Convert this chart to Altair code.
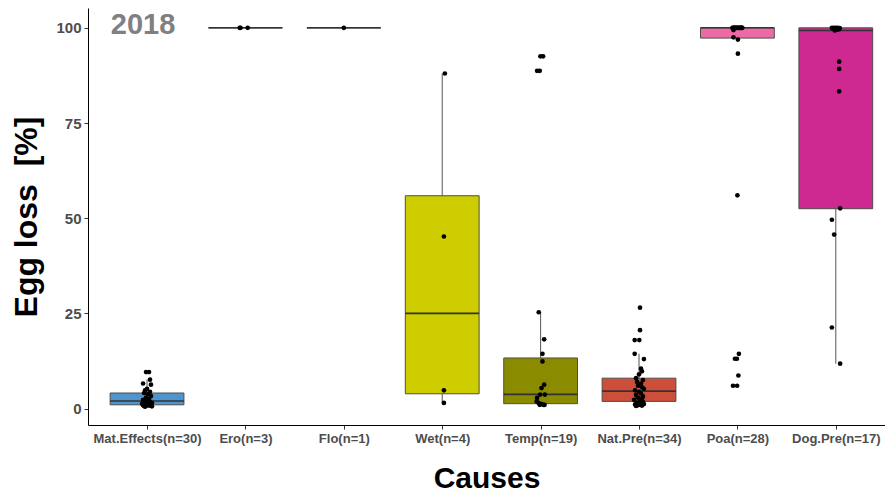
import altair as alt
import pandas as pd

causes = ["Mat.Effects", "Ero", "Flo", "Wet", "Temp", "Nat.Pre", "Poa", "Dog.Pre"]
counts = [30, 3, 1, 4, 19, 34, 28, 17]
q1 = [1.0, 100, 100, 3.9, 1.3, 1.9, 97.3, 52.5]
median = [2.0, 100, 100, 25.0, 3.75, 4.6, 100, 99.3]
q3 = [4.1, 100, 100, 55.9, 13.3, 8.0, 100, 100]
whisker_lo = [0.5, 100, 100, 1.5, 1.0, 0.7, 96.9, 11.8]
whisker_hi = [7.6, 100, 100, 88.0, 25.3, 14.4, 100, 100]

values = {
    "Mat.Effects": [9.6, 9.6, 7.6, 6.6, 6.3, 5.2, 4.8, 4.4, 4.1, 3.8, 3.3, 2.9, 2.6, 2.3, 2.0,
                    1.8, 1.6, 1.5, 1.3, 1.2, 1.1, 1.0, 1.0, 0.9, 0.9, 0.8, 0.8, 0.7, 0.6, 0.5],
    "Ero": [100, 100, 100],
    "Flo": [100],
    "Wet": [88.0, 45.2, 4.8, 1.5],
    "Temp": [92.5, 92.5, 88.7, 88.7, 25.3, 18.2, 14.4, 12.4, 6.3, 5.4, 3.7, 3.7, 2.8, 1.9,
             1.5, 1.2, 1.0, 1.0, 1.0],
    "Nat.Pre": [26.5, 20.6, 18.0, 18.0, 14.4, 13.0, 10.5, 9.8, 9.0, 8.0, 7.5, 7.0, 6.6, 6.0,
                5.6, 5.2, 4.8, 4.4, 4.0, 3.6, 3.2, 2.9, 2.6, 2.3, 2.0, 1.8, 1.6, 1.4, 1.2,
                1.1, 1.0, 0.9, 0.8, 0.7],
    "Poa": [100] * 16 + [99.8, 99.4, 97.5, 96.9, 93.2, 56.0, 14.4, 13.1, 13.1, 8.7, 6.0, 6.0],
    "Dog.Pre": [100, 100, 100, 100, 99.9, 99.8, 99.6, 99.5, 99.3, 91.1, 89.2, 83.3, 52.6,
                49.6, 45.7, 21.3, 11.8],
}

jitter = {
    "Mat.Effects": [-0.01, 0.02, 0.03, -0.04, 0.04, 0.0, -0.02, 0.03, -0.03, 0.01, 0.04, -0.01,
                    0.02, -0.04, 0.0, 0.03, -0.03, 0.05, -0.05, 0.01, -0.02, 0.04, -0.01, 0.02,
                    -0.04, 0.03, 0.0, -0.03, 0.05, -0.02],
    "Ero": [-0.058, -0.05, 0.023],
    "Flo": [0.0],
    "Wet": [0.027, 0.017, 0.017, 0.017],
    "Temp": [-0.002, 0.025, -0.036, -0.009, -0.019, 0.036, 0.019, 0.019, 0.036, 0.009, -0.005,
             0.043, -0.036, -0.04, -0.02, 0.01, 0.03, -0.01, 0.04],
    "Nat.Pre": [0.01, 0.01, -0.044, 0.003, -0.044, 0.05, 0.02, 0.03, 0.0, -0.03, 0.04, -0.02,
                0.02, -0.01, 0.03, 0.05, -0.04, 0.0, 0.02, -0.03, 0.04, -0.01, 0.03, -0.05, 0.01,
                0.04, -0.02, 0.0, 0.05, -0.04, 0.02, -0.01, 0.03, -0.03],
    "Poa": [-0.05, -0.04, -0.03, -0.02, -0.01, 0.0, 0.01, 0.02, 0.03, 0.04, 0.05, -0.035, -0.015,
            0.015, 0.035, 0.045, -0.045, -0.04, -0.04, 0.005, 0.005, 0.0, 0.015, -0.025, -0.005,
            0.01, -0.045, -0.003],
    "Dog.Pre": [-0.04, -0.02, 0.0, 0.02, 0.04, -0.03, 0.03, 0.01, -0.01, 0.034, 0.034, 0.034,
                0.044, -0.04, -0.017, -0.04, 0.044],
}

palette = ["#4F94CD", "#CD8500", "#8B5A2B", "#CDCD00", "#8B8B00", "#CD4F39", "#EE6AA7", "#CD2990"]
labels = [f"{c}(n={n})" for c, n in zip(causes, counts)]

box_df = pd.DataFrame({
    "cause": causes, "idx": list(range(len(causes))),
    "q1": q1, "med": median, "q3": q3, "wlo": whisker_lo, "whi": whisker_hi,
})
pts_rows = []
for i, c in enumerate(causes):
    for v, j in zip(values[c], jitter[c]):
        pts_rows.append({"cause": c, "idx": i, "value": v, "jit": j})
pts_df = pd.DataFrame(pts_rows)

label_js = "[" + ",".join("'" + s + "'" for s in labels) + "][datum.value]"
FONT = "Liberation Sans"

xscale = alt.Scale(domain=[-0.6, 7.5], nice=False, zero=False)
xaxis = alt.Axis(values=list(range(8)), labelExpr=label_js, title="Causes", grid=False,
                 labelFontSize=13, labelFontWeight="bold", labelColor="#4d4d4d", labelFont=FONT,
                 tickSize=4, labelPadding=3, titleFontSize=30, titleFontWeight="bold",
                 titleFont=FONT, titleColor="black", titlePadding=18, domainColor="black",
                 tickColor="#333333", labelAngle=0)
yscale = alt.Scale(domain=[-4.3, 105.2], nice=False, zero=False)
yaxis = alt.Axis(values=[0, 25, 50, 75, 100], title="Egg loss\u00a0 [%]", grid=False,
                 labelFontSize=15, labelFontWeight="bold", labelColor="#4d4d4d", labelFont=FONT,
                 tickSize=4, labelPadding=3, titleFontSize=32, titleFontWeight="bold",
                 titleFont=FONT, titleColor="black", titlePadding=12, domainColor="black",
                 tickColor="#333333")

color = alt.Color("cause:N", scale=alt.Scale(domain=causes, range=palette), legend=None)

base_box = alt.Chart(box_df).transform_calculate(
    xl="datum.idx - 0.375", xr="datum.idx + 0.375"
)

whisk_up = base_box.mark_rule(color="#555555", strokeWidth=1).encode(
    x=alt.X("idx:Q", scale=xscale, axis=xaxis),
    y=alt.Y("q3:Q", scale=yscale, axis=yaxis),
    y2="whi:Q",
)
whisk_lo = base_box.mark_rule(color="#555555", strokeWidth=1).encode(
    x=alt.X("idx:Q", scale=xscale, axis=xaxis),
    y=alt.Y("q1:Q", scale=yscale, axis=yaxis),
    y2="wlo:Q",
)
boxes = base_box.mark_bar(stroke="#4d4d4d", strokeWidth=1).encode(
    x=alt.X("xl:Q", scale=xscale, axis=xaxis),
    x2="xr:Q",
    y=alt.Y("q1:Q", scale=yscale, axis=yaxis),
    y2="q3:Q",
    color=color,
)
medians = base_box.mark_rule(color="#333333", strokeWidth=1.6).encode(
    x=alt.X("xl:Q", scale=xscale, axis=xaxis),
    x2="xr:Q",
    y=alt.Y("med:Q", scale=yscale, axis=yaxis),
)
points = alt.Chart(pts_df).transform_calculate(
    xj="datum.idx + datum.jit"
).mark_circle(size=22, color="black", opacity=1).encode(
    x=alt.X("xj:Q", scale=xscale, axis=xaxis),
    y=alt.Y("value:Q", scale=yscale, axis=yaxis),
)
year = alt.Chart(pd.DataFrame({"t": ["2018"]})).mark_text(
    font=FONT, fontSize=29, fontWeight="bold", color="#808080", baseline="middle", align="center"
).encode(
    x=alt.datum(-0.04, scale=xscale),
    y=alt.datum(100.8, scale=yscale),
    text="t:N",
)

chart = alt.layer(whisk_up, whisk_lo, boxes, medians, points, year).properties(
    width=797, height=417,
    autosize=alt.AutoSizeParams(type="none"),
    padding={"left": 80, "top": 0, "right": 0, "bottom": 67},
).configure_view(stroke=None)

chart.save("out.html", embed_options={"renderer": "svg", "actions": False})
